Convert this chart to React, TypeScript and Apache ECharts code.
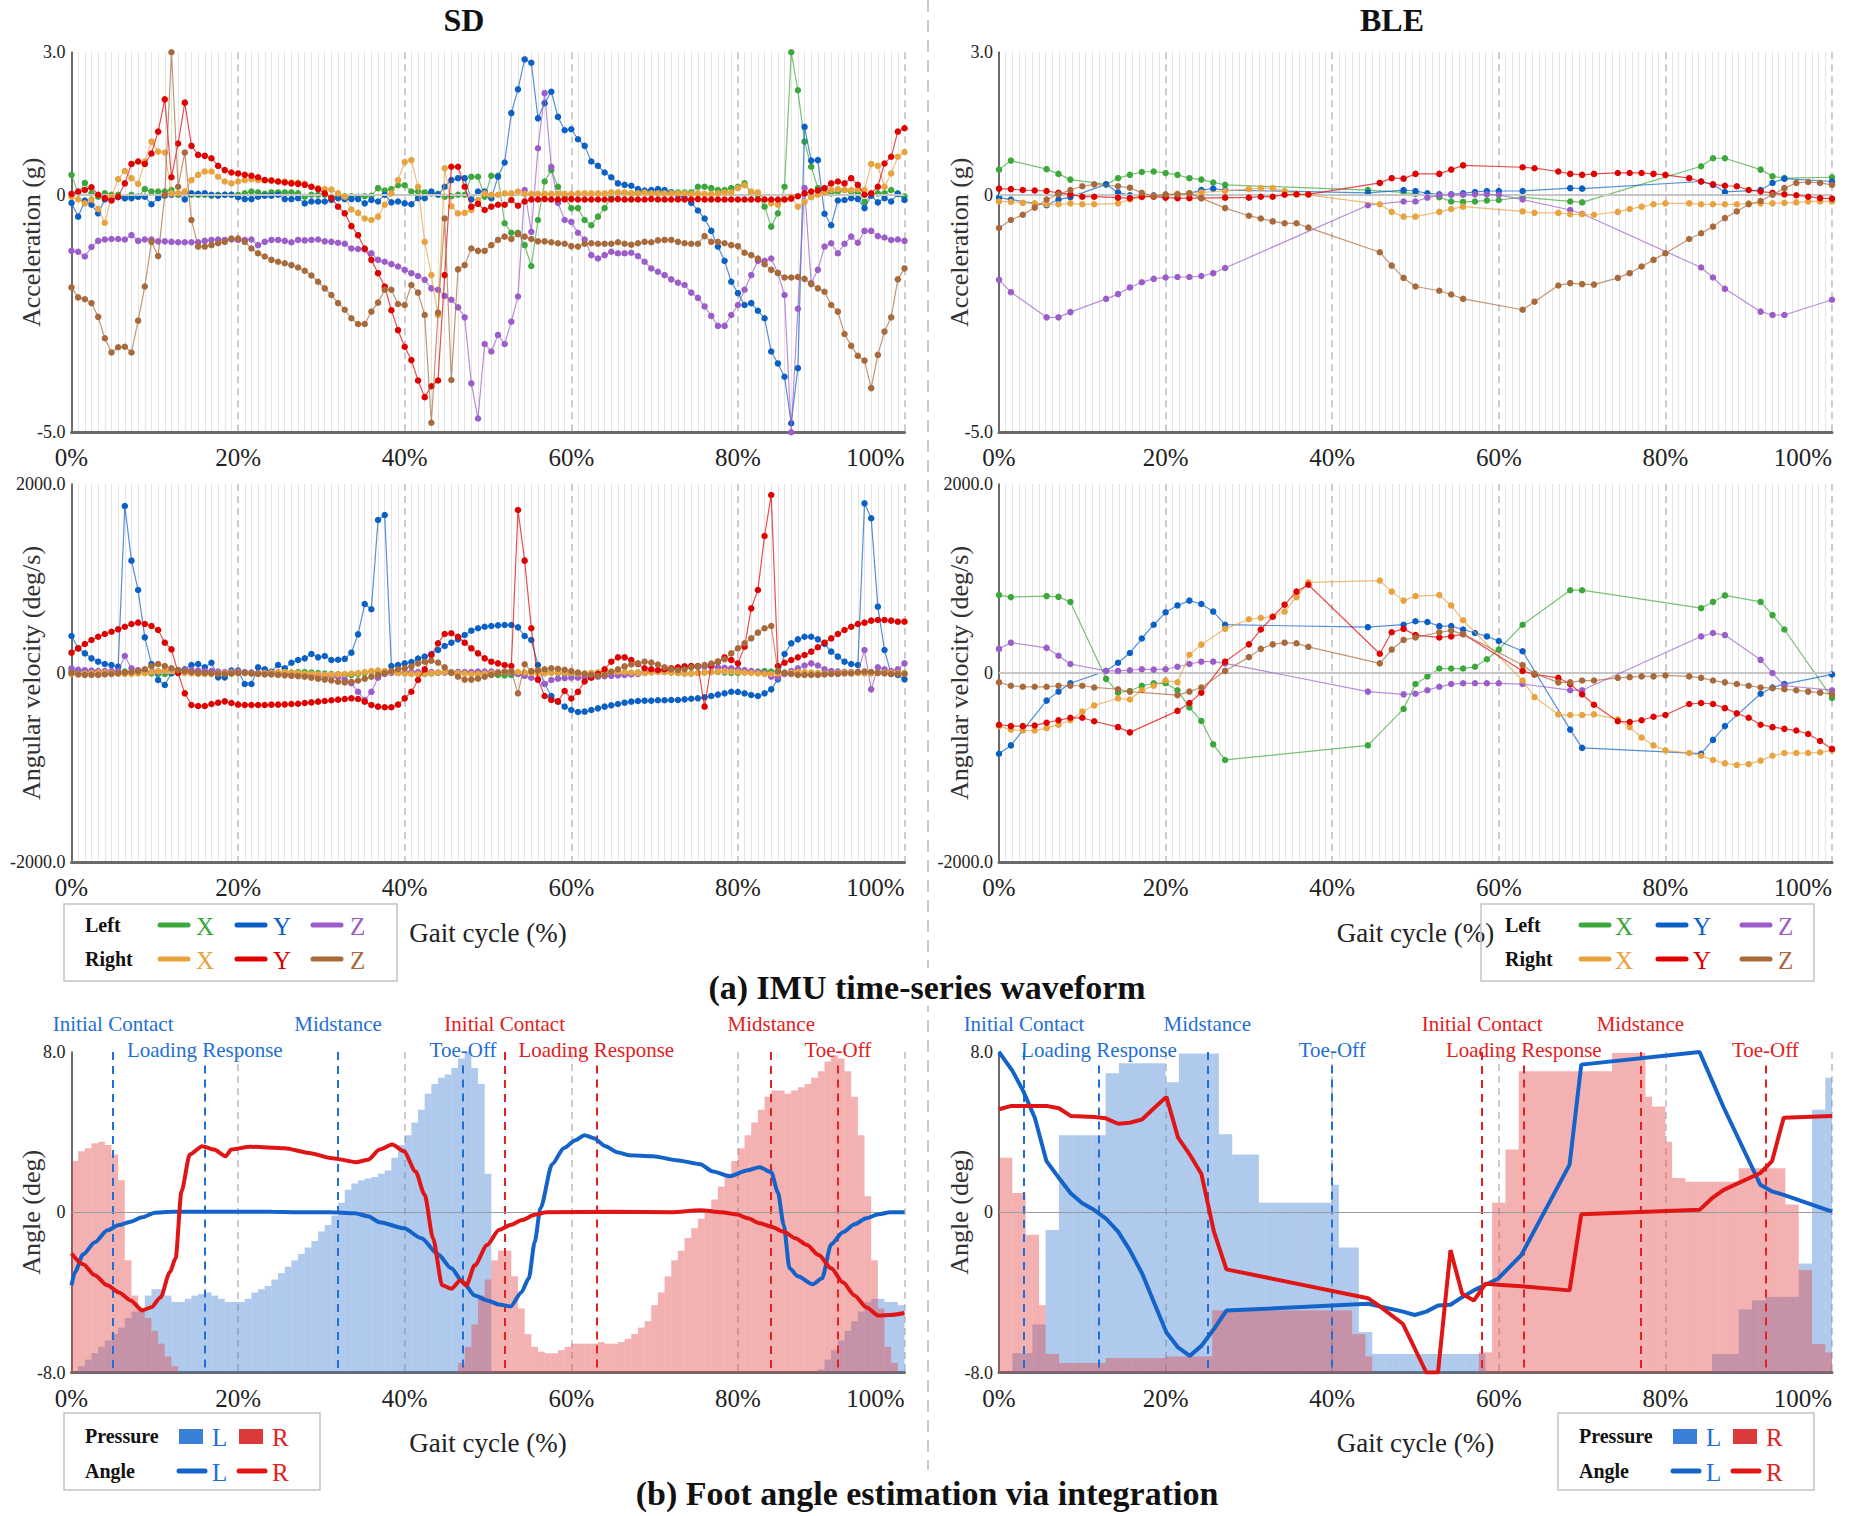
import React, { useEffect, useRef } from "react";
import * as echarts from "echarts";

// ===================== DATA =====================
const SD_STEP = 0.8; // % of gait cycle per SD sample
const BLE_STEP = 100 / 70; // % of gait cycle per BLE sample slot
const xTicks = [0, 20, 40, 60, 80, 100];

// ---- SD acceleration (g), 126 samples ----
const sdAccLX = [
  0.42, 0.03, 0.25, 0.03, -0.04, 0.03, 0, 0, -0.07, 0,
  -0.04, 0.12, 0.07, 0.07, 0.07, 0.1, 0, 0.03, 0, 0,
  0, -0.02, 0, 0, 0, 0, 0.03, 0.07, 0.05, 0.02,
  0.05, 0.05, 0.05, 0.05, 0.03, -0.04, 0, 0, 0, -0.04,
  -0.04, -0.03, -0.03, -0.04, -0.03, -0.02, 0.14, 0.09, 0.12, 0.2,
  0.2, 0.07, 0.07, 0.05, 0.03, 0.02, -0.04, -0.03, 0, 0,
  0.38, 0.38, -0.04, 0.4, 0.4, -0.6, -0.8, -0.8, -1.06, -1.5,
  -0.53, 0.28, 0.52, 0.17, -0.04, -0.28, -0.28, -0.53, -0.64, -0.46,
  -0.28, -0.04, 0.03, 0.03, 0.03, 0.05, 0.05, 0.05, 0.05, 0.05,
  0.05, 0.05, 0.05, 0.05, 0.17, 0.17, 0.14, 0.1, 0.1, 0.14,
  0.17, 0.24, 0.03, 0, -0.25, -0.67, -0.39, 0.17, 3.0, 2.2,
  1.12, 0.59, 0.14, 0.07, 0.03, 0.07, 0.1, 0.07, 0.03, -0.15,
  0, 0.03, 0.03, 0.1, 0.03, -0.03,
];
const sdAccLY = [
  -0.17, -0.46, -0.12, -0.21, -0.39, -0.1, -0.09, -0.05, -0.07, -0.07,
  -0.04, -0.04, -0.2, -0.07, -0.02, 0, 0.02, -0.1, 0.03, 0.02,
  0.03, 0, -0.02, 0, 0, -0.05, -0.09, -0.09, -0.04, -0.02,
  -0.02, 0, -0.09, -0.09, -0.07, -0.18, -0.14, -0.14, -0.14, -0.11,
  -0.07, -0.09, -0.09, -0.09, -0.18, -0.11, -0.14, 0, -0.16, -0.14,
  -0.18, -0.2, -0.07, -0.07, 0.07, 0, 0.17, 0.31, 0.35, 0.35,
  -0.1, 0.07, 0.07, -0.07, 0.38, 0.68, 1.72, 2.22, 2.85, 2.78,
  1.61, 1.93, 2.17, 1.64, 1.36, 1.38, 1.17, 1.03, 0.7, 0.61,
  0.47, 0.37, 0.24, 0.21, 0.19, 0.12, 0.09, 0.1, 0.12, 0.1,
  0.05, 0, -0.07, -0.17, -0.33, -0.5, -0.76, -1.09, -1.39, -1.83,
  -2.07, -2.32, -2.28, -2.44, -2.6, -3.3, -3.55, -3.83, -4.81, -3.65,
  1.43, 0.72, 0.73, -0.4, -0.64, -0.12, -0.11, -0.07, -0.09, -0.28,
  -0.02, -0.16, -0.07, -0.14, 0.02, -0.11,
];
const sdAccLZ = [
  -1.18, -1.2, -1.3, -1.1, -0.97, -0.94, -0.93, -0.93, -0.94, -0.85,
  -0.97, -0.94, -0.94, -0.98, -0.98, -0.99, -1.0, -1.0, -1.0, -1.0,
  -0.97, -0.95, -0.94, -0.95, -0.94, -0.95, -0.95, -0.94, -1.06, -0.99,
  -0.95, -0.95, -0.97, -1.0, -0.95, -0.96, -0.95, -0.94, -0.98, -0.99,
  -1.01, -1.03, -1.13, -1.14, -1.15, -1.23, -1.37, -1.41, -1.46, -1.51,
  -1.58, -1.65, -1.71, -1.79, -1.97, -2.0, -2.13, -2.21, -2.37, -2.58,
  -3.97, -4.71, -3.14, -3.3, -2.95, -3.14, -2.67, -2.14, 0.1, -0.78,
  0.98, 2.14, 0.59, -0.17, -0.53, -0.57, -0.8, -0.94, -1.27, -1.34,
  -1.27, -1.2, -1.23, -1.23, -1.22, -1.29, -1.41, -1.55, -1.62, -1.69,
  -1.78, -1.85, -1.9, -2.06, -2.17, -2.35, -2.55, -2.76, -2.76, -2.53,
  -2.32, -2.0, -1.69, -1.39, -1.39, -1.34, -1.65, -2.11, -5.0, -2.4,
  0.14, -1.86, -1.58, -1.09, -1.02, -1.23, -1.03, -0.88, -1.01, -0.76,
  -0.76, -0.87, -0.9, -0.95, -0.94, -0.97,
];
const sdAccRX = [
  -0.04, -0.1, -0.18, -0.1, -0.3, -0.59, -0.04, 0.33, 0.5, 0.35,
  0.23, 0.7, 1.12, 0.91, 0.89, 0.03, 0.03, 0.07, 0.31, 0.42,
  0.49, 0.49, 0.38, 0.28, 0.24, 0.28, 0.31, 0.33, 0.31, 0.31,
  0.3, 0.28, 0.28, 0.26, 0.26, 0.23, 0.17, 0.14, 0.12, 0.11,
  0.03, -0.04, -0.31, -0.38, -0.5, -0.53, -0.46, -0.21, 0.03, 0.31,
  0.69, 0.73, 0.17, -0.99, -1.69, -2.53, 0.56, -0.24, -0.39, -0.38,
  -0.32, -0.11, 0.03, 0, 0, 0.03, 0.03, 0.07, 0.02, 0.02,
  0.02, 0.02, 0.02, 0.02, 0.02, 0.02, 0.03, 0.03, 0.03, 0.03,
  0.03, 0.05, 0.05, 0.05, 0.03, 0.03, 0.05, 0.03, 0.03, 0.03,
  0.03, 0.03, 0.03, 0.02, 0.03, 0.02, 0.02, 0.03, 0.05, 0.05,
  0.14, 0.2, 0.07, 0.05, -0.1, -0.18, -0.21, -0.1, -0.04, -0.25,
  -0.15, -0.05, 0, 0.05, 0.1, 0.12, 0.1, 0.1, 0.12, 0.1,
  0.65, 0.61, 0.17, 0.45, 0.8, 0.9,
];
const sdAccRY = [
  0.02, 0.07, 0.1, 0.16, 0, -0.07, -0.12, -0.04, 0.24, 0.65,
  0.7, 0.65, 0.87, 1.33, 2.01, 0.37, 1.08, 1.94, 1.03, 0.84,
  0.82, 0.77, 0.61, 0.52, 0.47, 0.45, 0.42, 0.4, 0.37, 0.31,
  0.3, 0.28, 0.26, 0.24, 0.23, 0.21, 0.17, 0.12, 0.03, -0.07,
  -0.25, -0.39, -0.66, -0.85, -1.13, -1.37, -1.65, -1.93, -2.43, -2.85,
  -3.2, -3.48, -3.91, -4.26, -4.03, -3.91, -1.69, 0.59, 0.59, 0.17,
  -0.25, -0.19, -0.32, -0.25, -0.21, -0.21, -0.11, -0.23, -0.14, -0.1,
  -0.1, -0.09, -0.1, -0.1, -0.1, -0.09, -0.1, -0.1, -0.1, -0.1,
  -0.1, -0.1, -0.09, -0.1, -0.1, -0.1, -0.1, -0.09, -0.1, -0.1,
  -0.1, -0.1, -0.1, -0.1, -0.09, -0.1, -0.1, -0.1, -0.1, -0.1,
  -0.1, -0.1, -0.1, -0.1, -0.1, -0.1, -0.1, -0.1, -0.08, -0.03,
  0.03, 0.07, 0.09, 0.14, 0.24, 0.28, 0.24, 0.35, 0.21, 0,
  0.03, 0.17, 0.66, 0.8, 1.33, 1.4,
];
const sdAccRZ = [
  -1.95, -2.16, -2.2, -2.28, -2.57, -3.02, -3.32, -3.21, -3.2, -3.32,
  -2.65, -1.93, -0.99, -1.29, 0.0, 3.0, 0.17, 0.89, -0.53, -1.09,
  -1.09, -1.06, -1.02, -0.99, -0.92, -0.92, -0.99, -1.13, -1.23, -1.3,
  -1.37, -1.41, -1.44, -1.48, -1.53, -1.6, -1.7, -1.83, -1.97, -2.11,
  -2.28, -2.42, -2.6, -2.72, -2.72, -2.46, -2.27, -2.0, -2.0, -2.3,
  -2.32, -1.9, -2.06, -2.53, -4.8, -2.48, -0.5, -3.9, -1.57, -1.48,
  -1.13, -1.18, -1.18, -1.06, -0.95, -0.88, -0.93, -0.83, -0.88, -0.93,
  -0.98, -0.98, -1.0, -1.02, -1.03, -1.08, -1.09, -1.03, -1.02, -1.03,
  -1.03, -1.03, -1.0, -1.03, -1.05, -1.02, -0.99, -1.0, -0.96, -0.95,
  -0.95, -0.99, -1.02, -1.03, -1.03, -0.87, -0.99, -0.99, -1.02, -1.06,
  -1.08, -1.22, -1.27, -1.34, -1.46, -1.58, -1.64, -1.74, -1.74, -1.73,
  -1.77, -1.88, -1.97, -2.04, -2.32, -2.46, -2.93, -3.18, -3.39, -3.49,
  -4.07, -3.37, -2.88, -2.58, -1.78, -1.55,
];

// ---- SD angular velocity (deg/s), 126 samples ----
const sdGyrLX = [
  20, 15, 10, 5, 0, 0, 5, 10, 15, 10,
  5, 0, -5, -10, -10, -5, 0, 5, 10, 10,
  5, 0, 0, -5, -5, 0, 5, 5, 0, 0,
  -5, -5, 0, 5, 10, 10, 5, 0, -5, -10,
  -15, -20, -20, -10, 0, 10, 15, 10, 5, 0,
  0, -5, -10, -10, -5, 0, 5, 10, 10, 5,
  0, -5, -10, -15, -20, -25, -20, -10, 0, 5,
  10, 10, 5, 0, -5, -10, -10, -5, 0, 5,
  10, 10, 5, 0, 0, 5, 10, 15, 15, 10,
  5, 0, -5, -5, 0, 5, 10, 10, 5, 0,
  0, 5, 10, 15, 20, 15, 10, 5, 0, -5,
  -10, -10, -5, 0, 5, 10, 10, 5, 0, 0,
  5, 10, 10, 5, 0, 0,
];
const sdGyrLY = [
  392, 261, 208, 155, 120, 95, 85, 67, 1767, 1189,
  878, 377, 95, -74, -127, 0, 32, 39, 85, 95,
  60, 109, -46, -46, 25, 25, -116, -116, 60, 39,
  14, 85, 49, 109, 138, 155, 201, 166, 180, 138,
  140, 150, 215, 409, 730, 674, 1619, 1672, 74, 85,
  102, 116, 152, 173, 201, 243, 286, 321, 356, 402,
  448, 473, 490, 497, 504, 508, 508, 483, 392, 349,
  85, -116, -243, -303, -356, -392, -413, -409, -392, -374,
  -356, -342, -328, -314, -303, -296, -293, -293, -289, -289,
  -286, -286, -279, -272, -268, -257, -243, -229, -215, -198,
  -201, -215, -233, -243, -215, -173, -67, 201, 314, 356,
  384, 384, 356, 307, 226, 173, 120, 95, 85, 1795,
  1637, 702, 243, -11, -21, -67,
];
const sdGyrLZ = [
  49, 35, 30, 25, 20, 20, 20, 20, 180, 49,
  30, 20, 10, 15, 25, 30, 30, 35, 30, 25,
  20, 20, 15, 10, 10, 15, 10, 5, 0, 0,
  0, 0, -5, -10, -15, -20, -25, -30, -39, -39,
  -39, -70, -109, -198, -286, -200, -50, -10, 0, 5,
  5, 10, 10, 10, 10, 5, 5, 5, 10, 10,
  10, 15, 15, 15, 10, 10, 5, -10, -30, -50,
  -74, -116, -74, -60, -55, -50, -50, -45, -45, -40,
  -35, -30, -25, -20, -15, -10, 0, 10, 20, 30,
  40, 50, 60, 67, 67, 67, 67, 60, 55, 50,
  40, 30, 20, 10, 0, -39, -50, -10, 20, 50,
  80, 102, 80, 40, 20, 15, 10, 10, 10, 243,
  -173, 60, 40, 20, 40, 102,
];
const sdGyrRX = [
  -10, -10, -5, 0, 5, 5, 0, -5, -10, -10,
  -5, 0, 10, 20, 25, 20, 10, 0, -5, -10,
  -10, -10, -5, 0, 5, 5, 0, -5, -5, 0,
  5, 10, 10, 5, 0, -5, -10, -15, -20, -20,
  -15, -10, -5, 0, 10, 20, 25, 20, 10, 0,
  -5, -10, -10, -5, 0, 5, 10, 5, 0, -5,
  -10, -10, -5, 0, 5, 10, 15, 10, 5, 0,
  -5, -5, 0, 5, 5, 0, -5, -5, 0, 5,
  10, 15, 15, 10, 5, 0, 0, 5, 10, 10,
  5, 0, -5, -5, 0, 5, 10, 15, 20, 15,
  10, 5, 0, -5, -10, -10, -5, 0, 5, 10,
  10, 5, 0, -5, -5, 0, 5, 5, 0, -5,
  -5, 0, 5, 5, 0, 0,
];
const sdGyrRY = [
  215, 261, 307, 349, 384, 413, 437, 462, 490, 518,
  533, 518, 497, 455, 321, 250, 0, -215, -339, -349,
  -349, -328, -314, -300, -318, -335, -339, -339, -339, -339,
  -335, -335, -332, -328, -325, -318, -311, -303, -296, -289,
  -282, -275, -268, -275, -303, -339, -356, -363, -363, -335,
  -268, -198, -74, 39, 190, 314, 413, 420, 384, 321,
  261, 208, 155, 120, 102, 85, 74, 1725, 1189, 473,
  -67, -243, -286, -300, -190, -270, -200, -90, -50, -10,
  40, 120, 166, 166, 138, 95, 50, 40, 32, 40,
  50, 60, 70, 74, 74, -356, 85, 120, 166, 138,
  102, 279, 684, 878, 1450, 1884, 74, 109, 138, 166,
  190, 226, 272, 321, 367, 413, 455, 490, 518, 533,
  554, 561, 561, 554, 543, 543,
];
const sdGyrRZ = [
  0, -15, -20, -20, -20, -15, -10, -5, 5, 10,
  20, 40, 74, 95, 74, 50, 30, 20, 10, 0,
  0, -5, -10, -10, -5, 0, 0, -5, -10, -15,
  -15, -20, -25, -30, -35, -40, -50, -60, -70, -80,
  -92, -100, -92, -80, -60, -40, -20, 0, 20, 40,
  49, 70, 102, 120, 130, 110, 60, 0, -40, -70,
  -70, -60, -40, -20, 0, 15, 20, -215, 92, 20,
  30, 40, 50, 45, 35, 20, 5, -10, -20, -30,
  -20, 10, 40, 70, 90, 102, 120, 110, 90, 60,
  40, 30, 40, 60, 70, 85, 100, 120, 145, 208,
  261, 314, 367, 427, 473, 497, 20, 0, -10, -20,
  -20, -20, -20, -15, -10, -10, -5, -5, 10, 15,
  10, 0, -5, -10, -10, -10,
];

// ---- BLE acceleration (g): [sample slot, value] (lost packets are missing) ----
const bleAccLX = [[0,0.53],[1,0.72],[4,0.54],[5,0.44],[6,0.32],[9,0.22],[10,0.35],[11,0.42],[12,0.48],[13,0.49],[14,0.46],[15,0.42],[16,0.35],[17,0.32],[18,0.26],[19,0.21],[31,0.1],[34,0.05],[35,0.02],[36,0],[37,-0.05],[38,-0.14],[39,-0.15],[40,-0.14],[41,-0.12],[42,-0.11],[44,-0.05],[48,-0.14],[49,-0.16],[59,0.6],[60,0.77],[61,0.77],[64,0.53],[65,0.39],[66,0.35],[70,0.37]];
const bleAccLY = [[0,-0.06],[1,-0.1],[4,-0.22],[5,-0.1],[6,-0.05],[9,0.22],[10,0.05],[11,-0.01],[12,-0.01],[13,-0.01],[14,-0.03],[15,0],[16,0.03],[17,0.1],[18,0.13],[19,0.1],[31,0.04],[34,0.1],[35,0.08],[36,0.03],[37,0.01],[38,0.01],[39,0.03],[40,0.06],[41,0.08],[42,0.08],[44,0.08],[48,0.14],[49,0.13],[59,0.28],[60,0.21],[61,0.06],[64,0.1],[65,0.25],[66,0.34],[70,0.28]];
const bleAccLZ = [[0,-1.79],[1,-2.05],[4,-2.58],[5,-2.58],[6,-2.47],[9,-2.19],[10,-2.09],[11,-1.95],[12,-1.84],[13,-1.77],[14,-1.74],[15,-1.73],[16,-1.73],[17,-1.71],[18,-1.65],[19,-1.54],[31,-0.22],[34,-0.14],[35,-0.14],[36,-0.06],[37,-0.01],[38,0],[39,0],[40,0.01],[41,0.01],[42,0],[44,-0.1],[48,-0.32],[49,-0.4],[59,-1.53],[60,-1.74],[61,-1.98],[64,-2.46],[65,-2.53],[66,-2.53],[70,-2.21]];
const bleAccRX = [[0,-0.14],[1,-0.15],[2,-0.17],[3,-0.18],[4,-0.2],[5,-0.2],[6,-0.18],[7,-0.2],[8,-0.2],[10,-0.18],[11,-0.1],[12,-0.05],[13,-0.02],[14,0],[15,0.02],[16,0.03],[17,0.05],[19,0.08],[21,0.12],[22,0.14],[23,0.14],[24,0.08],[25,0.02],[26,0],[32,-0.2],[33,-0.36],[34,-0.46],[35,-0.46],[37,-0.36],[38,-0.3],[39,-0.25],[44,-0.35],[45,-0.38],[47,-0.38],[48,-0.41],[49,-0.41],[50,-0.42],[52,-0.36],[53,-0.3],[54,-0.25],[55,-0.2],[56,-0.18],[58,-0.18],[59,-0.2],[60,-0.2],[61,-0.2],[62,-0.2],[63,-0.18],[64,-0.18],[65,-0.18],[66,-0.17],[67,-0.16],[68,-0.14],[69,-0.14],[70,-0.14]];
const bleAccRY = [[0,0.13],[1,0.12],[2,0.1],[3,0.09],[4,0.08],[5,0.04],[6,0.01],[7,-0.04],[8,-0.04],[10,-0.06],[11,-0.07],[12,-0.04],[13,-0.04],[14,-0.06],[15,-0.07],[16,-0.07],[17,-0.07],[19,-0.06],[21,-0.06],[22,-0.04],[23,-0.04],[24,0],[25,0.01],[26,0.01],[32,0.25],[33,0.35],[34,0.34],[35,0.44],[37,0.44],[38,0.53],[39,0.62],[44,0.58],[45,0.56],[47,0.49],[48,0.44],[49,0.42],[50,0.44],[52,0.46],[53,0.46],[54,0.46],[55,0.44],[56,0.42],[58,0.35],[59,0.28],[60,0.22],[61,0.19],[62,0.18],[63,0.1],[64,0.07],[65,0.04],[66,0.01],[67,-0.01],[68,-0.04],[69,-0.07],[70,-0.08]];
const bleAccRZ = [[0,-0.7],[1,-0.53],[2,-0.42],[3,-0.27],[4,-0.1],[5,0.01],[6,0.1],[7,0.18],[8,0.22],[10,0.18],[11,0.15],[12,0.04],[13,-0.03],[14,0.01],[15,0.01],[16,0.03],[17,-0.07],[19,-0.28],[21,-0.44],[22,-0.5],[23,-0.56],[24,-0.6],[25,-0.6],[26,-0.69],[32,-1.21],[33,-1.49],[34,-1.75],[35,-1.93],[37,-2.02],[38,-2.1],[39,-2.19],[44,-2.42],[45,-2.25],[47,-1.91],[48,-1.86],[49,-1.88],[50,-1.89],[52,-1.75],[53,-1.65],[54,-1.51],[55,-1.37],[56,-1.23],[58,-0.93],[59,-0.81],[60,-0.67],[61,-0.49],[62,-0.35],[63,-0.2],[64,-0.13],[65,0],[66,0.14],[67,0.25],[68,0.27],[69,0.25],[70,0.21]];

// ---- BLE angular velocity (deg/s) ----
const bleGyrLX = [[0,825],[1,803],[4,814],[5,806],[6,752],[9,-62],[10,-208],[11,-190],[12,-135],[13,-109],[14,-109],[15,-182],[16,-365],[17,-507],[18,-755],[19,-920],[31,-766],[34,-380],[35,-117],[36,-36],[37,47],[38,47],[39,47],[40,66],[41,146],[42,248],[44,511],[48,876],[49,876],[59,686],[60,752],[61,821],[64,752],[65,613],[66,460],[70,-263]];
const bleGyrLY = [[0,-854],[1,-766],[4,-292],[5,-197],[6,-109],[9,22],[10,109],[11,212],[12,365],[13,511],[14,642],[15,715],[16,766],[17,730],[18,650],[19,511],[31,485],[34,511],[35,547],[36,540],[37,496],[38,496],[39,460],[40,423],[41,387],[42,339],[44,230],[48,-599],[49,-792],[59,-854],[60,-708],[61,-562],[64,-219],[65,-153],[66,-117],[70,-15]];
const bleGyrLZ = [[0,255],[1,321],[4,266],[5,182],[6,95],[9,22],[10,22],[11,29],[12,40],[13,36],[14,40],[15,66],[16,95],[17,120],[18,120],[19,102],[31,-197],[34,-226],[35,-219],[36,-182],[37,-146],[38,-117],[39,-109],[40,-109],[41,-109],[42,-109],[44,-117],[48,-182],[49,-182],[59,387],[60,423],[61,401],[64,139],[65,0],[66,-135],[70,-182]];
const bleGyrRX = [[0,-562],[1,-599],[2,-609],[3,-609],[4,-584],[5,-547],[6,-500],[7,-409],[8,-343],[10,-270],[11,-281],[12,-182],[13,-135],[14,-80],[15,-99],[16,193],[17,300],[19,467],[21,569],[22,584],[23,595],[24,650],[25,803],[26,960],[32,978],[33,861],[34,766],[35,814],[37,825],[38,715],[39,558],[44,-80],[45,-255],[47,-438],[48,-445],[49,-445],[50,-438],[52,-489],[53,-573],[54,-682],[55,-766],[56,-818],[58,-847],[59,-876],[60,-920],[61,-956],[62,-974],[63,-964],[64,-927],[65,-876],[66,-847],[67,-847],[68,-847],[69,-839],[70,-818]];
const bleGyrRY = [[0,-547],[1,-562],[2,-562],[3,-555],[4,-526],[5,-500],[6,-474],[7,-474],[8,-511],[10,-573],[11,-628],[15,-401],[16,-318],[17,-208],[19,120],[21,303],[22,460],[23,595],[24,723],[25,861],[26,934],[32,204],[33,431],[34,467],[35,401],[37,376],[38,387],[39,412],[44,22],[45,-15],[47,-51],[48,-117],[49,-226],[50,-336],[52,-511],[53,-518],[54,-500],[55,-463],[56,-445],[58,-328],[59,-318],[60,-328],[61,-372],[62,-427],[63,-474],[64,-547],[65,-573],[66,-591],[67,-609],[68,-646],[69,-719],[70,-803]];
const bleGyrRZ = [[0,-99],[1,-135],[2,-146],[3,-146],[4,-146],[5,-135],[6,-135],[7,-135],[8,-153],[10,-172],[11,-197],[15,-234],[16,-197],[17,-153],[19,22],[21,168],[22,255],[23,303],[24,321],[25,314],[26,277],[32,102],[33,248],[34,350],[35,376],[37,431],[38,449],[39,412],[44,84],[45,-7],[47,-99],[48,-99],[49,-80],[50,-80],[52,-51],[53,-44],[54,-36],[55,-36],[56,-26],[58,-36],[59,-51],[60,-80],[61,-99],[62,-117],[63,-135],[64,-153],[65,-161],[66,-172],[67,-182],[68,-197],[69,-208],[70,-226]];

// ---- Foot pressure (% of max), 125 bars of 0.8 % ----
const sdPresL = [
  0, 2, 4, 6, 8, 10, 12, 14, 17, 19,
  20, 24, 26, 26, 24, 22, 22, 23, 24, 24.5,
  25, 24, 23, 22, 22, 22, 23, 25, 26, 27,
  29, 31, 33, 35, 37, 39, 41, 44, 46, 49,
  53, 57, 59, 60, 60.5, 61, 62, 63, 67, 71,
  74, 78, 82, 87, 90, 92, 93, 95, 98, 100,
  95, 90, 62, 0, 0, 0, 0, 0, 0, 0,
  0, 0, 0, 0, 0, 0, 0, 0, 0, 0,
  0, 0, 0, 0, 0, 0, 0, 0, 0, 0,
  0, 0, 0, 0, 0, 0, 0, 0, 0, 0,
  0, 0, 0, 0, 0, 0, 0, 0, 0, 0,
  0, 0, 1, 4, 7, 10, 13, 16, 19, 22,
  23, 23, 22, 22, 21,
];
const sdPresR = [
  66, 69, 70, 71.5, 72, 71, 68, 60, 35, 24,
  20, 17, 13, 9, 5, 2, 0, 0, 0, 0,
  0, 0, 0, 0, 0, 0, 0, 0, 0, 0,
  0, 0, 0, 0, 0, 0, 0, 0, 0, 0,
  0, 0, 0, 0, 0, 0, 0, 0, 0, 0,
  0, 0, 0, 0, 0, 0, 0, 0, 3, 8,
  15, 24, 29, 35, 38, 38, 30, 20, 12, 8,
  6.5, 6, 6, 7, 8, 9, 9, 9, 9, 9.5,
  9, 9, 9.5, 10.5, 12, 14, 16, 21, 25, 30,
  35, 38, 42, 45, 48, 51, 54, 58, 62, 66,
  70, 74, 78, 82, 86, 88, 88, 87, 88, 89,
  90, 92, 94, 97, 99, 98, 94, 86, 74, 55,
  35, 20, 8, 3, 0,
];
const blePresL = [
  0, 0, 6, 6, 6, 15, 15, 44.5, 44.5, 74,
  74, 74, 74, 74, 74, 74, 93.4, 93.4, 96.5, 96.5,
  96.5, 96.5, 96.5, 96.5, 96.5, 90.6, 90.6, 99.5, 99.5, 99.5,
  99.5, 99.5, 99.5, 74.3, 74.3, 68, 68, 68, 68, 53,
  53, 53, 53, 53, 53, 53, 53, 53, 53, 53,
  58.6, 39, 39, 39, 12.6, 12.6, 5.8, 5.8, 5.8, 5.8,
  5.8, 5.8, 5.8, 5.8, 5.8, 5.8, 5.8, 5.8, 5.8, 5.8,
  5.8, 5.8, 5.8, 0, 0, 0, 0, 0, 0, 0,
  0, 0, 0, 0, 0, 0, 0, 0, 0, 0,
  0, 0, 0, 0, 0, 0, 0, 0, 0, 0,
  0, 0, 0, 0, 0, 0, 0, 5.8, 5.8, 5.8,
  5.8, 19.7, 19.7, 22.5, 22.5, 23.6, 23.6, 23.6, 23.6, 23.6,
  34, 34, 82, 82, 92,
];
const blePresR = [
  67, 67, 56, 56, 43, 43, 21, 5.8, 5.8, 3,
  3, 3, 3, 3, 3, 3, 4.5, 4.5, 4.5, 4.5,
  4.5, 4.5, 4.5, 4.5, 4.5, 5, 5, 5, 5, 5,
  5, 5, 19.4, 19.4, 19.4, 19.4, 19.4, 19.4, 19.4, 19.4,
  19.4, 19.4, 19.4, 19.4, 19.4, 19.4, 19.4, 19.4, 19.4, 19.4,
  19.4, 19.4, 19.4, 12, 12, 5, 0, 0, 0, 0,
  0, 0, 0, 0, 0, 0, 0, 0, 0, 0,
  0, 0, 6.3, 6.3, 53, 53, 69.6, 69.6, 94, 94,
  94, 94, 94, 94, 94, 94, 94, 94, 94, 94,
  94, 94, 99.7, 99.7, 99.7, 99.7, 99.7, 86, 83, 83,
  72, 60.7, 60.7, 59.5, 59.5, 59.5, 59.5, 59.5, 59.5, 59.5,
  59.5, 63.7, 63.7, 63.7, 63.7, 63.7, 63.7, 63.7, 52.4, 52.4,
  32, 32, 8.9, 8.9, 6.3,
];

// ---- Foot angle (deg): [gait %, angle] ----
const sdAngL = [[0,-3.65],[0.4,-3.0],[1.4,-2.1],[2.8,-1.5],[4.3,-0.9],[5.7,-0.64],[7.1,-0.47],[8.5,-0.25],[10,-0.02],[12,0.02],[16,0.03],[20,0.03],[24,0.02],[27,0],[31,0],[34,-0.05],[35.6,-0.2],[37,-0.5],[39.9,-0.8],[42,-1.3],[44,-2.1],[45.6,-2.8],[47,-3.5],[48.4,-4.15],[49.9,-4.4],[51.3,-4.6],[52.7,-4.7],[54,-4.0],[54.9,-3.3],[55.6,-1.5],[56.3,0.2],[57.7,2.4],[59.1,3.2],[60.5,3.6],[61.6,3.85],[62.7,3.7],[64.1,3.3],[65.5,3.0],[66.9,2.85],[69.8,2.8],[72.6,2.6],[75.5,2.4],[76.9,2.05],[79,1.8],[81.2,2.1],[82.6,2.25],[84,2.0],[84.8,1.0],[85.5,-0.64],[86.2,-2.8],[87.2,-3.2],[89,-3.6],[90.1,-3.3],[91.2,-1.6],[92.6,-1.0],[94,-0.6],[95.4,-0.3],[96.9,-0.1],[98.3,0],[100,0]];
const sdAngR = [[0,-2.06],[1.4,-2.6],[2.8,-3.15],[4.3,-3.65],[5.7,-4.0],[7.1,-4.4],[8.5,-4.9],[9.6,-4.74],[10.7,-4.24],[11.8,-3.0],[12.5,-2.3],[13.2,1.04],[14.2,2.88],[15.7,3.3],[17.1,3.13],[18.5,2.8],[19.2,3.13],[21.4,3.27],[25.6,3.2],[28.5,2.96],[31.3,2.7],[34.2,2.5],[35.6,2.62],[37,3.13],[38.5,3.38],[39.9,3.05],[41.3,2.04],[42.4,0.87],[43.4,-1.3],[44.5,-3.65],[45.6,-3.82],[46.7,-3.4],[47.4,-3.65],[48.4,-2.65],[49.9,-1.64],[51.3,-0.89],[52.7,-0.64],[54.1,-0.39],[55.6,-0.13],[57,0],[65,0.03],[72,0],[75.5,0.1],[78,0],[79.8,-0.1],[81.2,-0.3],[82.6,-0.55],[84,-0.72],[85.5,-0.97],[86.9,-1.3],[88.3,-1.64],[89.7,-2.14],[91.2,-2.8],[92.6,-3.5],[94,-4.15],[95.4,-4.74],[96.9,-5.16],[98.3,-5.13],[100,-5.03]];
const bleAngL = [[0,8.0],[1.6,7.07],[2.9,6.06],[4.3,4.72],[5.7,2.55],[7.2,1.71],[8.6,0.95],[10,0.45],[11.4,0.12],[12.8,-0.3],[14.3,-0.97],[15.7,-1.89],[17.2,-3.07],[18.6,-4.49],[20.1,-6.0],[21.5,-6.75],[22.9,-7.17],[24.3,-6.67],[25.8,-5.83],[27.3,-4.91],[44.3,-4.57],[48.5,-4.96],[49.9,-5.13],[51.3,-4.96],[52.7,-4.66],[54.2,-4.62],[55.6,-4.24],[57,-3.9],[58.4,-3.62],[59.9,-3.32],[62.7,-2.14],[68.5,2.38],[69.9,7.37],[84.1,8.0],[85.6,6.57],[87,5.23],[91.4,1.37],[92.8,1.04],[94.2,0.87],[100,0.03]];
const bleAngR = [[0,5.14],[1.5,5.31],[2.9,5.31],[5.7,5.31],[7.2,5.19],[8.6,4.81],[11.5,4.76],[12.8,4.69],[14.3,4.42],[15.7,4.47],[17.2,4.64],[18.6,5.19],[20.1,5.76],[21.5,3.72],[22.9,2.88],[24.3,1.91],[25.8,-0.97],[27.3,-2.85],[44.3,-4.29],[45.6,-4.66],[48.5,-5.58],[51.3,-8.0],[52.7,-8.0],[54.2,-1.89],[55.6,-4.07],[57,-4.41],[58.4,-3.57],[59.9,-3.62],[62.7,-3.69],[68.5,-3.9],[69.9,-0.1],[84.1,0.12],[85.6,0.7],[87,1.12],[91.4,1.96],[92.8,2.55],[94.2,4.72],[100,4.81]];

// ---- Gait phase events (% of gait cycle) ----
const phaseNames = ["Initial Contact", "Loading Response", "Midstance", "Toe-Off"];
const sdPhaseL = [5, 16, 32, 47];
const sdPhaseR = [52, 63, 84, 92];
const blePhaseL = [3, 12, 25, 40];
const blePhaseR = [58, 63, 77, 92];

const imuSeriesNames = ["Left X", "Left Y", "Left Z", "Right X", "Right Y", "Right Z"];
const columnTitles = ["SD", "BLE"];

// ===================== STYLE =====================
const SERIF = '"Liberation Serif", "Times New Roman", serif';
const IMU_COLORS = ["#3ca83c", "#0b60c6", "#9b5dc9", "#e8a23e", "#e00000", "#a8693b"];
const BLUE = "#1463c9";
const RED = "#e01616";
const BLUE_TXT = "#1f6fd6";
const RED_TXT = "#e42020";

const COL_LEFT = [71.5, 999];
const COL_W = 833;
const ROWS = [
  { top: 52.3, h: 380 },
  { top: 484, h: 378 },
  { top: 1052, h: 320.5 },
];

const sdXY = (arr: number[]) => arr.map((v, i) => [+(i * SD_STEP).toFixed(2), v]);
const bleXY = (arr: number[][]) => arr.map(([k, v]) => [+(k * BLE_STEP).toFixed(3), v]);
const barXY = (arr: number[]) => arr.map((v, j) => [+(j * SD_STEP + SD_STEP / 2).toFixed(2), v]);

function buildOption() {
  const grid: any[] = [];
  const xAxis: any[] = [];
  const yAxis: any[] = [];
  const series: any[] = [];

  const yDefs = [
    { min: -5, max: 3, interval: 1, name: "Acceleration (g)" },
    { min: -2000, max: 2000, interval: 2000, name: "Angular velocity (deg/s)" },
    { min: -8, max: 8, interval: 8, name: "Angle (deg)" },
  ];

  for (let r = 0; r < 3; r++) {
    for (let c = 0; c < 2; c++) {
      const gi = r * 2 + c;
      grid.push({
        left: COL_LEFT[c],
        top: ROWS[r].top,
        width: COL_W,
        height: ROWS[r].h,
        containLabel: false,
        outerBoundsMode: "none",
      });
      xAxis.push({
        type: "value",
        gridIndex: gi,
        min: xTicks[0],
        max: xTicks[xTicks.length - 1],
        interval: xTicks[1] - xTicks[0],
        axisLine: { show: true, onZero: false, lineStyle: { color: "#6a6a6a", width: 3 } },
        axisTick: { show: false },
        axisLabel: {
          formatter: "{value}%",
          fontFamily: SERIF,
          fontSize: 25,
          color: "#222",
          margin: 13,
          alignMinLabel: "center",
          alignMaxLabel: "right",
        },
        splitLine: {
          show: true,
          showMinLine: false,
          lineStyle: { color: "#bdbdbd", type: [7, 5], width: 1.5 },
        },
        minorTick: { show: false, splitNumber: 25 },
        minorSplitLine: { show: r < 2, lineStyle: { color: "#e4e4e4", width: 1 } },
        name: r > 0 ? "Gait cycle (%)" : "",
        nameLocation: "middle",
        nameGap: 57,
        nameMoveOverlap: false,
        nameTextStyle: { fontFamily: SERIF, fontSize: 27, color: "#222" },
      });
      const yd = yDefs[r];
      yAxis.push({
        type: "value",
        gridIndex: gi,
        min: yd.min,
        max: yd.max,
        interval: yd.interval,
        axisLine: { show: true, onZero: false, lineStyle: { color: "#3a3a3a", width: 1.5 } },
        axisTick: { show: false },
        splitLine: { show: false },
        axisLabel: {
          fontFamily: SERIF,
          fontSize: 18,
          color: "#222",
          margin: 6,
          formatter: (v: number) =>
            v === 0 ? "0" : v === yd.min || v === yd.max ? v.toFixed(1) : "",
        },
        name: yd.name,
        nameLocation: "middle",
        nameGap: 27,
        nameMoveOverlap: false,
        nameTextStyle: { fontFamily: SERIF, fontSize: 26, color: "#333" },
      });
    }
  }
  // hidden pressure axes for bottom row
  const presAxisIndex = [yAxis.length, yAxis.length + 1];
  for (let c = 0; c < 2; c++) {
    yAxis.push({ type: "value", gridIndex: 4 + c, min: 0, max: 100, show: false });
  }

  const zeroLine = (color: string, width: number) => ({
    silent: true,
    symbol: ["none", "none"],
    label: { show: false },
    lineStyle: { color, width, type: "solid" },
    data: [{ yAxis: 0 }],
  });

  // IMU rows
  const imuSets = [
    [sdXY(sdAccLX), sdXY(sdAccLY), sdXY(sdAccLZ), sdXY(sdAccRX), sdXY(sdAccRY), sdXY(sdAccRZ)],
    [bleXY(bleAccLX), bleXY(bleAccLY), bleXY(bleAccLZ), bleXY(bleAccRX), bleXY(bleAccRY), bleXY(bleAccRZ)],
    [sdXY(sdGyrLX), sdXY(sdGyrLY), sdXY(sdGyrLZ), sdXY(sdGyrRX), sdXY(sdGyrRY), sdXY(sdGyrRZ)],
    [bleXY(bleGyrLX), bleXY(bleGyrLY), bleXY(bleGyrLZ), bleXY(bleGyrRX), bleXY(bleGyrRY), bleXY(bleGyrRZ)],
  ];
  imuSets.forEach((set, gi) => {
    set.forEach((data, s) => {
      const color = IMU_COLORS[s];
      series.push({
        type: "line",
        name: imuSeriesNames[s],
        xAxisIndex: gi,
        yAxisIndex: gi,
        data,
        symbol: "circle",
        symbolSize: 6.5,
        showSymbol: true,
        itemStyle: { color },
        lineStyle: { color, width: 1.2, opacity: 0.7 },
        z: 3 + s,
        markLine: s === 0 ? zeroLine("#c6c6c6", 1.8) : undefined,
      });
    });
  });

  // Bottom row
  const phaseMarks = (xs: number[]) =>
    xs.map((x, k) => {
      const second = k % 2 === 1;
      return [
        {
          coord: [x, second ? 7.33 : 8],
          label: { formatter: phaseNames[k], distance: second ? 15.5 : 28.5 },
        },
        { coord: [x, -8] },
      ];
    });
  const phaseMarkLine = (xs: number[], color: string, txt: string) => ({
    silent: true,
    symbol: ["none", "none"],
    lineStyle: { color, type: [8, 6], width: 2 },
    label: {
      show: true,
      position: "start",
      color: txt,
      fontFamily: SERIF,
      fontSize: 21,
      align: "center",
      verticalAlign: "middle",
    },
    data: phaseMarks(xs),
  });

  const bottom = [
    { presL: sdPresL, presR: sdPresR, angL: sdAngL, angR: sdAngR, phL: sdPhaseL, phR: sdPhaseR, smooth: 0.25 },
    { presL: blePresL, presR: blePresR, angL: bleAngL, angR: bleAngR, phL: blePhaseL, phR: blePhaseR, smooth: false },
  ];
  bottom.forEach((b, c) => {
    const gi = 4 + c;
    series.push({
      type: "bar",
      name: "Pressure L",
      xAxisIndex: gi,
      yAxisIndex: presAxisIndex[c],
      data: barXY(b.presL),
      barWidth: 6.7,
      barGap: "-100%",
      itemStyle: { color: "rgba(66,128,214,0.42)" },
      z: 1,
    });
    series.push({
      type: "bar",
      name: "Pressure R",
      xAxisIndex: gi,
      yAxisIndex: presAxisIndex[c],
      data: barXY(b.presR),
      barWidth: 6.7,
      barGap: "-100%",
      itemStyle: { color: "rgba(226,68,68,0.42)" },
      z: 1,
    });
    series.push({
      type: "line",
      name: "Angle L",
      xAxisIndex: gi,
      yAxisIndex: gi,
      data: b.angL,
      showSymbol: false,
      symbol: "none",
      smooth: b.smooth,
      smoothMonotone: "x",
      lineStyle: { color: BLUE, width: 4 },
      z: 5,
      markLine: phaseMarkLine(b.phL, BLUE_TXT, BLUE_TXT),
    });
    series.push({
      type: "line",
      name: "Angle R",
      xAxisIndex: gi,
      yAxisIndex: gi,
      data: b.angR,
      showSymbol: false,
      symbol: "none",
      smooth: b.smooth,
      smoothMonotone: "x",
      lineStyle: { color: RED, width: 4 },
      z: 6,
      markLine: phaseMarkLine(b.phR, RED_TXT, RED_TXT),
    });
    // zero line
    series.push({
      type: "line",
      xAxisIndex: gi,
      yAxisIndex: gi,
      data: [],
      silent: true,
      z: 2,
      markLine: zeroLine("#9a9a9a", 1.2),
    });
  });

  // ----- graphics (titles, legends, captions, divider) -----
  const txt = (x: number, y: number, text: string, font: string, fill: string, align = "left", z = 10, extra: any = {}) => ({
    type: "text",
    x,
    y,
    z,
    style: {
      text,
      font,
      fill,
      align,
      textAlign: align,
      verticalAlign: "middle",
      textVerticalAlign: "middle",
      ...extra,
    },
  });
  const graphic: any[] = [];
  graphic.push({
    type: "line",
    z: 1,
    shape: { x1: 928, y1: 0, x2: 928, y2: 1470 },
    style: { stroke: "#b9b9b9", lineWidth: 1.5, lineDash: [12, 8] },
  });
  graphic.push(txt(464, 20, columnTitles[0], `bold 32px ${SERIF}`, "#111", "center"));
  graphic.push(txt(1392, 20, columnTitles[1], `bold 32px ${SERIF}`, "#111", "center"));
  graphic.push(
    txt(927, 987, "(a) IMU time-series waveform", `bold 34px ${SERIF}`, "#111", "center", 20, {
      backgroundColor: "#fff",
      padding: [2, 8],
    })
  );
  graphic.push(
    txt(927, 1493, "(b) Foot angle estimation via integration", `bold 34px ${SERIF}`, "#111", "center", 20, {
      backgroundColor: "#fff",
      padding: [2, 8],
    })
  );

  const imuLegend = (x0: number, y0: number, off: { label: number; line: number[]; letter: number[] }) => {
    graphic.push({
      type: "rect",
      z: 15,
      shape: { x: x0, y: y0, width: 333, height: 77 },
      style: { fill: "rgba(255,255,255,0)", stroke: "#c4c4c4", lineWidth: 1.5 },
    });
    const rowY = [y0 + 21, y0 + 55];
    graphic.push(txt(x0 + off.label, rowY[0], "Left", `bold 20px ${SERIF}`, "#111", "left", 16));
    graphic.push(txt(x0 + off.label, rowY[1], "Right", `bold 20px ${SERIF}`, "#111", "left", 16));
    const letters = ["X", "Y", "Z"];
    for (let r = 0; r < 2; r++) {
      for (let k = 0; k < 3; k++) {
        const color = IMU_COLORS[r * 3 + k];
        graphic.push({
          type: "line",
          z: 16,
          shape: { x1: x0 + off.line[k], y1: rowY[r], x2: x0 + off.line[k] + 28, y2: rowY[r] },
          style: { stroke: color, lineWidth: 5, lineCap: "round" },
        });
        graphic.push(txt(x0 + off.letter[k], rowY[r] + 1, letters[k], `25px ${SERIF}`, color, "left", 16));
      }
    }
  };
  imuLegend(64, 904, { label: 21, line: [96, 173, 249], letter: [132, 209, 286] });
  imuLegend(1481, 904, { label: 24, line: [100, 177, 261], letter: [134, 212, 297] });

  const footLegend = (x0: number, y0: number) => {
    graphic.push({
      type: "rect",
      z: 15,
      shape: { x: x0, y: y0, width: 256, height: 77 },
      style: { fill: "rgba(255,255,255,0)", stroke: "#c4c4c4", lineWidth: 1.5 },
    });
    const rowY = [y0 + 23, y0 + 58];
    graphic.push(txt(x0 + 21, rowY[0], "Pressure", `bold 20px ${SERIF}`, "#111", "left", 16));
    graphic.push(txt(x0 + 21, rowY[1], "Angle", `bold 20px ${SERIF}`, "#111", "left", 16));
    const cols = [
      { x: 115, color: "#3a7fd8", txtColor: BLUE_TXT, letter: "L", line: BLUE },
      { x: 175, color: "#dc3a3a", txtColor: RED_TXT, letter: "R", line: RED },
    ];
    cols.forEach((cd) => {
      graphic.push({
        type: "rect",
        z: 16,
        shape: { x: x0 + cd.x, y: rowY[0] - 7, width: 24, height: 15 },
        style: { fill: cd.color },
      });
      graphic.push(txt(x0 + cd.x + 33, rowY[0] + 1, cd.letter, `25px ${SERIF}`, cd.txtColor, "left", 16));
      graphic.push({
        type: "line",
        z: 16,
        shape: { x1: x0 + cd.x, y1: rowY[1], x2: x0 + cd.x + 26, y2: rowY[1] },
        style: { stroke: cd.line, lineWidth: 5, lineCap: "round" },
      });
      graphic.push(txt(x0 + cd.x + 33, rowY[1] + 1, cd.letter, `25px ${SERIF}`, cd.txtColor, "left", 16));
    });
  };
  footLegend(64, 1413);
  footLegend(1558, 1413);

  return {
    animation: false,
    backgroundColor: "#fff",
    textStyle: { fontFamily: SERIF },
    grid,
    xAxis,
    yAxis,
    series,
    graphic,
  };
}

export default function App() {
  const ref = useRef<HTMLDivElement | null>(null);
  useEffect(() => {
    if (!ref.current) return;
    const chart = echarts.init(ref.current, undefined, { renderer: "svg" });
    chart.setOption(buildOption() as any);
    return () => chart.dispose();
  }, []);
  return (
    <div
      ref={ref}
      style={{ position: "absolute", left: 0, top: 0, width: 1855, height: 1516, background: "#fff" }}
    />
  );
}
